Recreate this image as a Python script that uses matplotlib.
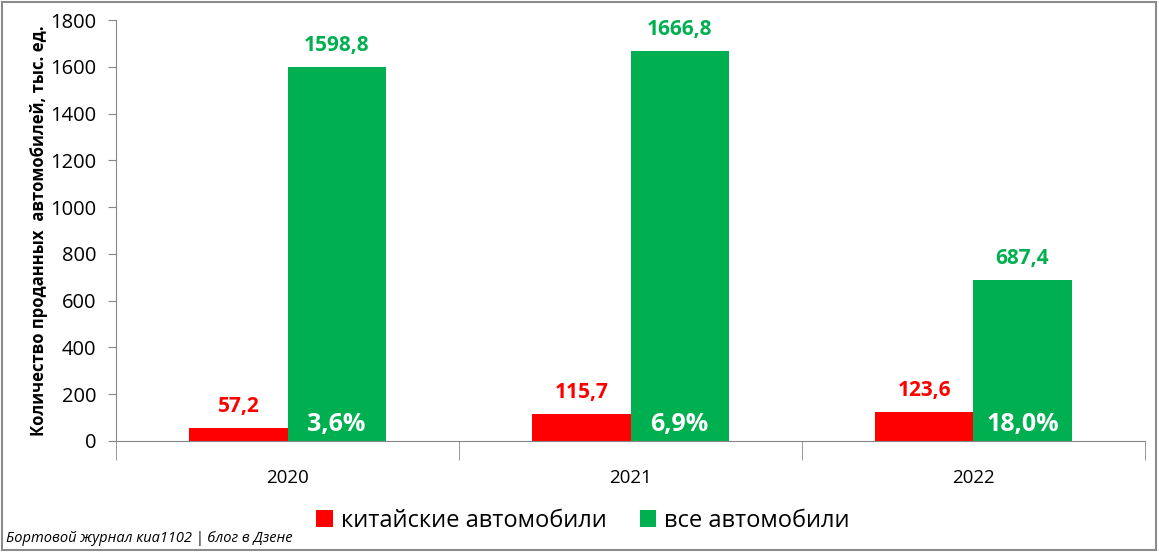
import matplotlib
matplotlib.use("Agg")
import matplotlib.pyplot as plt
import numpy as np
from matplotlib.patches import Rectangle

years = ["2020", "2021", "2022"]
chinese = [57.2, 115.7, 123.6]
total = [1598.8, 1666.8, 687.4]
share = ["3,6%", "6,9%", "18,0%"]

RED = "#FF0000"
GREEN = "#00B050"
AXIS = "#868686"

plt.rcParams["font.family"] = ["Open Sans", "DejaVu Sans"]

fig = plt.figure(figsize=(11.59, 5.52), dpi=100)
ax = fig.add_axes([116 / 1159, 1 - 441 / 552, 1029 / 1159, 421 / 552])

x = np.arange(len(years))
w = 0.286
b1 = ax.bar(x - w / 2, chinese, w, color=RED, label="китайские автомобили")
b2 = ax.bar(x + w / 2, total, w, color=GREEN, label="все автомобили")

for xi, v in zip(x - w / 2, chinese):
    ax.annotate(f"{v:.1f}".replace(".", ","), (xi, v), xytext=(0, 8),
                textcoords="offset points", ha="center", va="bottom",
                color=RED, fontsize=15, fontweight="bold")
for xi, v in zip(x + w / 2, total):
    ax.annotate(f"{v:.1f}".replace(".", ","), (xi, v), xytext=(0, 8),
                textcoords="offset points", ha="center", va="bottom",
                color=GREEN, fontsize=15, fontweight="bold")
for xi, s in zip(x + w / 2, share):
    ax.annotate(s, (xi, 0), xytext=(0, 12), textcoords="offset points",
                ha="center", va="center", color="white", fontsize=18,
                fontweight="bold")

ax.set_xlim(-0.5, len(years) - 0.5)
ax.set_ylim(0, 1800)
ax.set_yticks(range(0, 1801, 200))
ax.set_xticks(x)
ax.set_xticklabels(years)
ax.set_xticks(np.arange(-0.5, len(years)), minor=True)
ax.tick_params(axis="x", which="major", length=0, pad=20, labelsize=13.5)
ax.tick_params(axis="x", which="minor", length=14, color=AXIS)
ax.tick_params(axis="y", length=6, color=AXIS, labelsize=14.5, pad=8)

for side in ["top", "right"]:
    ax.spines[side].set_visible(False)
for side in ["left", "bottom"]:
    ax.spines[side].set_color(AXIS)

ax.set_ylabel("Количество проданных  автомобилей, тыс. ед.", fontsize=12,
              fontweight="bold", labelpad=2)

fig.legend(handles=[b1, b2], loc="center", bbox_to_anchor=(0.503, 1 - 521 / 552),
           ncol=2, frameon=False, fontsize=17, handlelength=0.7, handleheight=0.7,
           columnspacing=1.4, handletextpad=0.35)

fig.text(6 / 1159, 1 - 539 / 552, "Бортовой журнал киа1102 | блог в Дзене",
         fontsize=10.5, style="italic", va="center", ha="left")

fig.patches.append(Rectangle((2 / 1159, 2 / 552), 1154 / 1159, 548 / 552,
                             transform=fig.transFigure, fill=False,
                             edgecolor="#8C8C8C", linewidth=1.5))

fig.savefig("out.png", dpi=100)
